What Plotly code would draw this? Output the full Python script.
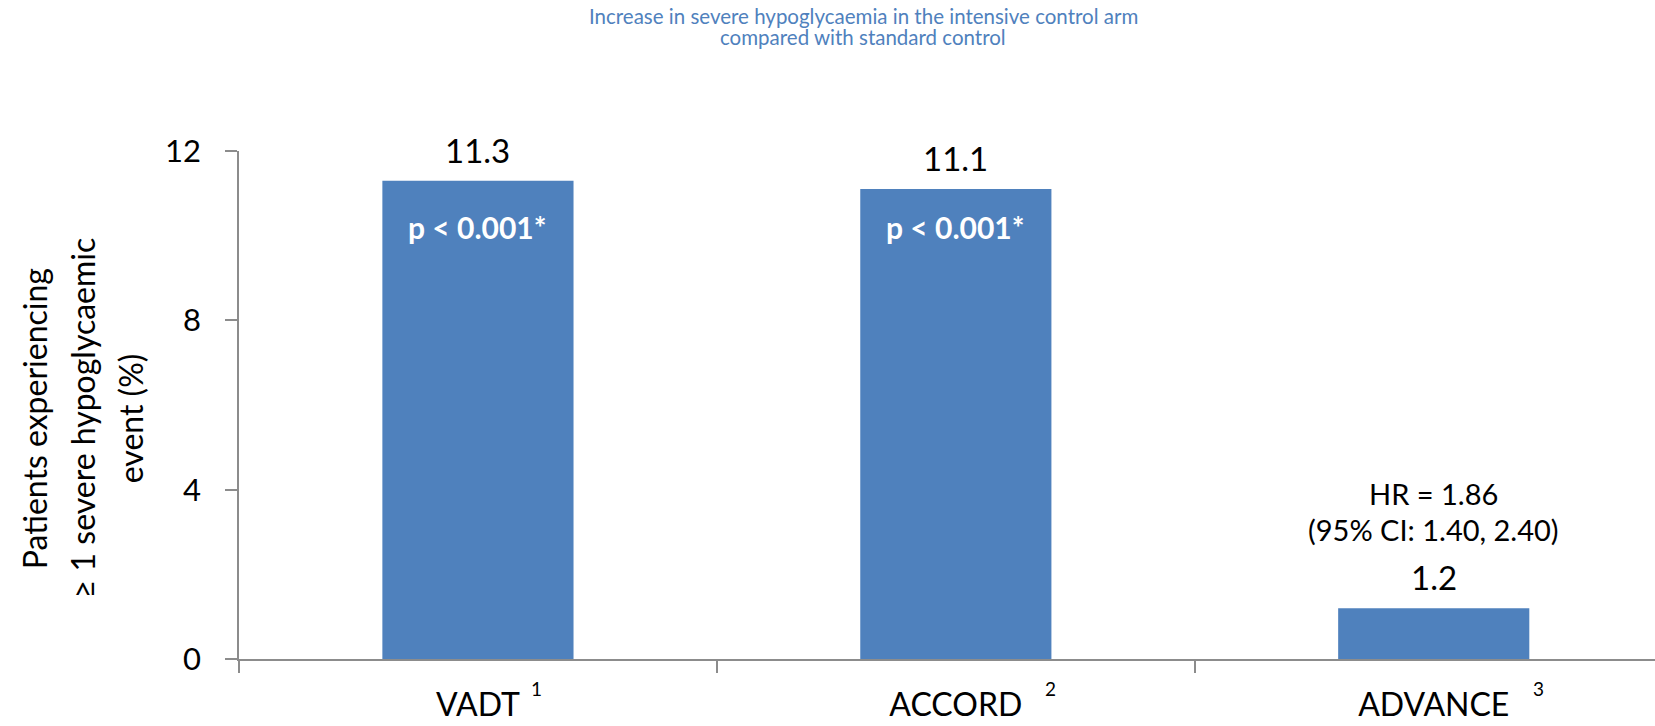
import plotly.graph_objects as go

# Trial data
trials = ["VADT", "ACCORD", "ADVANCE"]
refs = ["1", "2", "3"]
pct_patients = [11.3, 11.1, 1.2]
p_labels = ["p < 0.001*", "p < 0.001*", ""]
hr_lines = ["HR = 1.86", "(95% CI: 1.40, 2.40)"]
y_ticks = [0, 4, 8, 12]
title_lines = ["Increase in severe hypoglycaemia in the intensive control arm",
               "compared with standard control"]
ytitle_lines = ["Patients experiencing", "≥ 1 severe hypoglycaemic", "event (%)"]

BLUE = "#4F81BD"
AXIS = "#8C8C8C"
FONT = "Lato, 'Open Sans', sans-serif"

W, H = 1655, 726
ML, MR, MT, MB = 239, 0, 151, 67
PW, PH = W - ML - MR, H - MT - MB


def px_to_paper_x(px):
    return (px - ML) / PW


def px_to_paper_y(py):
    return (H - MB - py) / PH


fig = go.Figure()
fig.add_trace(go.Bar(
    x=trials, y=pct_patients,
    marker=dict(color=BLUE, line=dict(width=0)),
    width=0.4, hoverinfo="skip",
))

annotations = []
# value labels above bars
for t, v in zip(trials, pct_patients):
    annotations.append(dict(
        x=t, y=v, xref="x", yref="y", text=f"{v:.1f}", showarrow=False,
        yanchor="middle", yshift=31, font=dict(family=FONT, size=33, color="black"),
    ))
# significance labels inside bars
for t, p in zip(trials, p_labels):
    if p:
        annotations.append(dict(
            x=t, y=10.2, xref="x", yref="y", text=f"<b>{p}</b>", showarrow=False,
            yanchor="middle", font=dict(family=FONT, size=30, color="white"),
        ))
# hazard ratio text over the ADVANCE bar
for line, shift in zip(hr_lines, [115, 79]):
    annotations.append(dict(
        x=trials[2], y=pct_patients[2], xref="x", yref="y", text=line, showarrow=False,
        yanchor="middle", yshift=shift, font=dict(family=FONT, size=29, color="black"),
    ))
# reference superscripts next to category labels
for t, r, dx in zip(trials, refs, [59, 95, 105]):
    annotations.append(dict(
        x=t, y=0, xref="x", yref="y", text=r, showarrow=False,
        xanchor="center", yanchor="middle", xshift=dx, yshift=-29,
        font=dict(family=FONT, size=19, color="black"),
    ))
# y axis title, one annotation per line
for line, cx in zip(ytitle_lines, [34, 82, 130]):
    annotations.append(dict(
        x=px_to_paper_x(cx), y=0.474, xref="paper", yref="paper", showarrow=False,
        text=line, textangle=-90, xanchor="center", yanchor="middle",
        font=dict(family=FONT, size=32, color="black"),
    ))
# chart heading
for line, cy in zip(title_lines, [16, 37]):
    annotations.append(dict(
        x=px_to_paper_x(863), y=px_to_paper_y(cy), xref="paper", yref="paper",
        showarrow=False, text=line, xanchor="center", yanchor="middle",
        font=dict(family=FONT, size=20.5, color=BLUE),
    ))

fig.update_layout(
    width=W, height=H,
    margin=dict(l=ML, r=MR, t=MT, b=MB, pad=0),
    paper_bgcolor="white", plot_bgcolor="white",
    showlegend=False,
    bargap=0.6,
    xaxis=dict(
        type="category", range=[-0.5, 2.463],
        showline=True, linecolor=AXIS, linewidth=1.5,
        ticks="outside", tickson="boundaries", ticklen=12, tickwidth=1.5, tickcolor=AXIS,
        tickfont=dict(family=FONT, size=32, color="black"),
        ticklabelstandoff=17,
        showgrid=False, zeroline=False, fixedrange=True,
    ),
    yaxis=dict(
        range=[0, 12], tickvals=y_ticks,
        showline=True, linecolor=AXIS, linewidth=1.5,
        ticks="outside", ticklen=12, tickwidth=1.5, tickcolor=AXIS,
        tickfont=dict(family=FONT, size=31, color="black"),
        ticklabelstandoff=18,
        showgrid=False, zeroline=False, fixedrange=True,
    ),
    annotations=annotations,
)

fig.write_html("out.html", config={"displayModeBar": False})
